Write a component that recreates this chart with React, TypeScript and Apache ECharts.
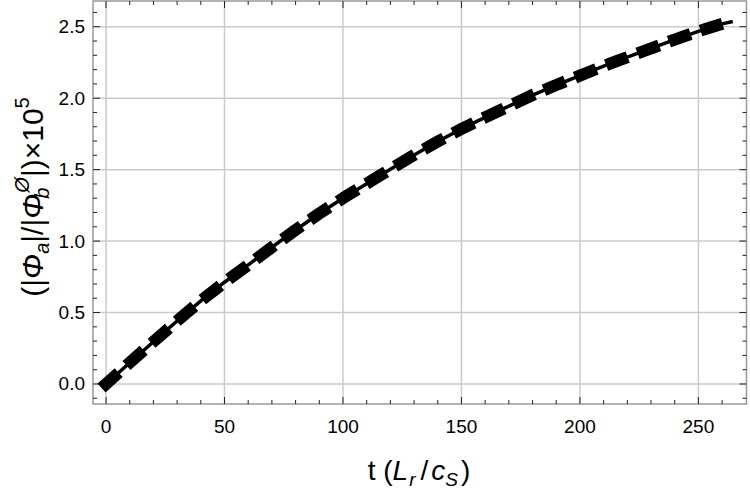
import React, { useEffect, useRef } from "react";
import * as echarts from "echarts";

const tValues = [0, 10, 20, 30, 40, 50, 60, 70, 80, 90, 100, 110, 120, 130, 140, 150, 160, 170, 180, 190, 200, 210, 220, 230, 240, 250, 260, 264.5];
const ratioValues = [0, 0.149, 0.296, 0.441, 0.582, 0.712, 0.833, 0.957, 1.078, 1.193, 1.3, 1.402, 1.503, 1.603, 1.697, 1.785, 1.866, 1.944, 2.022, 2.092, 2.158, 2.225, 2.287, 2.348, 2.41, 2.468, 2.52, 2.537];

const xMajorTicks = [0, 50, 100, 150, 200, 250];
const xMinorTicks = [0, 10, 20, 30, 40, 50, 60, 70, 80, 90, 100, 110, 120, 130, 140, 150, 160, 170, 180, 190, 200, 210, 220, 230, 240, 250, 260];
const yMajorTicks = [0, 0.5, 1, 1.5, 2, 2.5];
const yMinorTicks = [-0.1, 0, 0.1, 0.2, 0.3, 0.4, 0.5, 0.6, 0.7, 0.8, 0.9, 1, 1.1, 1.2, 1.3, 1.4, 1.5, 1.6, 1.7, 1.8, 1.9, 2, 2.1, 2.2, 2.3, 2.4, 2.5, 2.6];

const X_MIN = -5.5;
const X_MAX = 270.3;
const Y_MIN = -0.14;
const Y_MAX = 2.68;

const FONT = "'Liberation Sans', Arial, Helvetica, sans-serif";
const FRAME = "#9a9a9a";
const TICK = "#222222";
const GRIDC = "#cbcbcb";

export default function App() {
  const ref = useRef<HTMLDivElement>(null);
  useEffect(() => {
    if (!ref.current) return;
    const chart = echarts.init(ref.current, undefined, { renderer: "svg" });
    const data = tValues.map((t, i) => [t, ratioValues[i]]);
    const xTickData = xMinorTicks.map((v) => [v, xMajorTicks.indexOf(v) >= 0 ? 1 : 0]);
    const yTickData = yMinorTicks.map((v) => [yMajorTicks.indexOf(v) >= 0 ? 1 : 0, v]);

    const base = { fontSize: 28, fontFamily: FONT, lineHeight: 38, verticalAlign: "middle", fill: "#000" };
    const it = { ...base, fontStyle: "italic" };
    const sub = { fontSize: 19, fontFamily: FONT, fontStyle: "italic", lineHeight: 19, verticalAlign: "bottom", fill: "#000" };
    const sup = { fontSize: 19, fontFamily: FONT, lineHeight: 19, verticalAlign: "top", fill: "#000" };

    const yb = { ...base, fontSize: 30, lineHeight: 40 };
    const yi = { ...yb, fontStyle: "italic" };
    const ys = { ...sub, fontSize: 20, lineHeight: 20 };
    const yp = { ...sup, fontSize: 20, lineHeight: 20 };

    chart.setOption({
      animation: false,
      grid: {
        left: 93, right: 3.5, top: 1, bottom: 94, containLabel: false,
        show: true, borderColor: FRAME, borderWidth: 1.5, backgroundColor: "transparent",
      },
      xAxis: {
        type: "value",
        min: X_MIN,
        max: X_MAX,
        axisLine: { show: false },
        axisTick: { show: false },
        axisLabel: { show: true, customValues: xMajorTicks, margin: 13, color: "#000", fontSize: 19, fontFamily: FONT, formatter: (v: number) => String(Math.round(v)) },
        splitLine: { show: false },
      },
      yAxis: {
        type: "value",
        min: Y_MIN,
        max: Y_MAX,
        axisLine: { show: false },
        axisTick: { show: false },
        axisLabel: { show: true, customValues: yMajorTicks, margin: 8, color: "#000", fontSize: 19, fontFamily: FONT, formatter: (v: number) => v.toFixed(1) },
        splitLine: { show: false },
      },
      series: [
        {
          type: "custom",
          coordinateSystem: "cartesian2d",
          silent: true,
          data: xTickData,
          encode: { x: 0, y: 1 },
          z: 1,
          renderItem: (params: any, api: any) => {
            const v = api.value(0);
            const major = api.value(1) === 1;
            const b = api.coord([v, Y_MIN]);
            const t = api.coord([v, Y_MAX]);
            const len = major ? 7 : 4;
            const children: any[] = [];
            if (major) {
              children.push({ type: "line", shape: { x1: b[0], y1: b[1], x2: t[0], y2: t[1] }, style: { stroke: GRIDC, lineWidth: 1.5 } });
            }
            children.push({ type: "line", shape: { x1: b[0], y1: b[1], x2: b[0], y2: b[1] - len }, style: { stroke: TICK, lineWidth: 1 } });
            children.push({ type: "line", shape: { x1: t[0], y1: t[1], x2: t[0], y2: t[1] + len }, style: { stroke: TICK, lineWidth: 1 } });
            return { type: "group", children };
          },
        },
        {
          type: "custom",
          coordinateSystem: "cartesian2d",
          silent: true,
          data: yTickData,
          encode: { x: 0, y: 1 },
          z: 1,
          renderItem: (params: any, api: any) => {
            const v = api.value(1);
            const major = api.value(0) === 1;
            const l = api.coord([X_MIN, v]);
            const r = api.coord([X_MAX, v]);
            const len = major ? 7 : 4;
            const children: any[] = [];
            if (major) {
              children.push({ type: "line", shape: { x1: l[0], y1: l[1], x2: r[0], y2: r[1] }, style: { stroke: GRIDC, lineWidth: 1.5 } });
            }
            children.push({ type: "line", shape: { x1: l[0], y1: l[1], x2: l[0] + len, y2: l[1] }, style: { stroke: TICK, lineWidth: 1 } });
            children.push({ type: "line", shape: { x1: r[0], y1: r[1], x2: r[0] - len, y2: r[1] }, style: { stroke: TICK, lineWidth: 1 } });
            return { type: "group", children };
          },
        },
        {
          type: "line",
          data,
          showSymbol: false,
          symbol: "none",
          lineStyle: { color: "#000", width: 3.5 },
          z: 3,
        },
        {
          type: "line",
          data,
          showSymbol: false,
          symbol: "none",
          lineStyle: { color: "#000", width: 12, type: [11, 22.5], cap: "square" },
          z: 4,
        },
      ],
      graphic: [
        {
          type: "text",
          x: 419,
          y: 470,
          style: {
            text: "{n|t (}{i|L}{s|r}{sl|/}{i|c}{s2|S}{n|)}",
            align: "center",
            verticalAlign: "middle",
            rich: {
              n: base,
              i: it,
              s: { ...sub, padding: [0, 3, 0, 1] },
              s2: { ...sub, padding: [0, 3, 0, 0] },
              sl: { ...base, padding: [0, 3, 0, 2] },
            },
          },
        },
        {
          type: "text",
          x: 32,
          y: 197,
          rotation: Math.PI / 2,
          style: {
            text: "{n|(|}{i|Φ}{s|a}{n||/|}{i|Φ}{sb|b}{sp|Ø}{n||)×10}{p|5}",
            align: "center",
            verticalAlign: "middle",
            rich: { n: yb, i: yi, s: ys, sb: { ...ys, width: 1 }, sp: { ...yp, fontStyle: "italic" }, p: yp },
          },
        },
      ],
    });
    return () => chart.dispose();
  }, []);
  return <div ref={ref} style={{ position: "absolute", left: 0, top: 0, width: 750, height: 498 }} />;
}
